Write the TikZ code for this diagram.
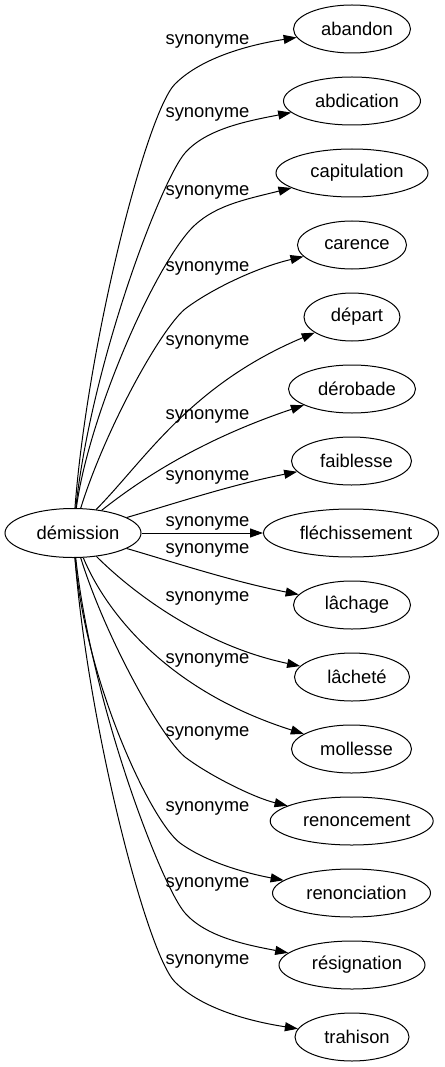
\documentclass[tikz,border=0pt]{standalone}
\usepackage{fontspec}
\setmainfont{Liberation Sans}
\usetikzlibrary{shapes.geometric,arrows.meta}
\newcommand\nodetxt[1]{\makebox[0pt]{\hspace{10pt}#1}}
\begin{document}
\begin{tikzpicture}[x=1pt,y=-1pt,
  term/.style={draw, ellipse, line width=1pt, inner sep=0pt, minimum height=48pt,
    font=\fontsize{18.4}{22}\selectfont},
  lbl/.style={inner sep=0pt, font=\fontsize{18.4}{22}\selectfont},
  syn/.style={line width=1pt, -{Triangle[length=13pt,width=9pt]}}]
\useasboundingbox (0,0) rectangle (444,1067);

% source
\node[term, minimum width=136pt, minimum height=49pt] (dem) at (73,533) {\nodetxt{démission}};

% targets
\node[term, minimum width=117pt] (t1)  at (352,29)    {\nodetxt{abandon}};
\node[term, minimum width=137pt] (t2)  at (352,101)   {\nodetxt{abdication}};
\node[term, minimum width=152pt] (t3)  at (352,173)   {\nodetxt{capitulation}};
\node[term, minimum width=109pt] (t4)  at (352,245)   {\nodetxt{carence}};
\node[term, minimum width=96pt]  (t5)  at (352,317)   {\nodetxt{départ}};
\node[term, minimum width=127pt] (t6)  at (352,389)   {\nodetxt{dérobade}};
\node[term, minimum width=120pt] (t7)  at (351.5,461) {\nodetxt{faiblesse}};
\node[term, minimum width=175pt] (t8)  at (351,533)   {\nodetxt{fléchissement}};
\node[term, minimum width=117pt] (t9)  at (352,605)   {\nodetxt{lâchage}};
\node[term, minimum width=115pt] (t10) at (352,677)   {\nodetxt{lâcheté}};
\node[term, minimum width=120pt] (t11) at (351.5,749) {\nodetxt{mollesse}};
\node[term, minimum width=163pt] (t12) at (351.7,821) {\nodetxt{renoncement}};
\node[term, minimum width=158pt] (t13) at (351.5,893) {\nodetxt{renonciation}};
\node[term, minimum width=146pt] (t14) at (352,965)   {\nodetxt{résignation}};
\node[term, minimum width=114pt] (t15) at (352,1037)  {\nodetxt{trahison}};

% edge labels
\node[lbl] (l1)  at (207.5,41)    {synonyme};
\node[lbl] (l2)  at (207.5,114.5) {synonyme};
\node[lbl] (l3)  at (207.5,192)   {synonyme};
\node[lbl] (l4)  at (207.5,268)   {synonyme};
\node[lbl] (l5)  at (207.5,342)   {synonyme};
\node[lbl] (l6)  at (207.5,416)   {synonyme};
\node[lbl] (l7)  at (207.5,477)   {synonyme};
\node[lbl] (l8)  at (207.5,523)   {synonyme};
\node[lbl] (l9)  at (207.5,550)   {synonyme};
\node[lbl] (l10) at (207.5,598.5) {synonyme};
\node[lbl] (l11) at (207.5,660)   {synonyme};
\node[lbl] (l12) at (207.5,733.5) {synonyme};
\node[lbl] (l13) at (207.5,808)   {synonyme};
\node[lbl] (l14) at (207.5,884)   {synonyme};
\node[lbl] (l15) at (207.5,961)   {synonyme};

% connectors (upper)
\draw[syn] (dem) .. controls (88,340) and (147,112) .. (175,84)
                 .. controls (203,56) and (254,44) .. (t1);
\draw[syn] (dem) .. controls (92,360) and (162,179) .. (185,153)
                 .. controls (206,129) and (247,121) .. (t2);
\draw[syn] (dem) .. controls (88,420) and (150,275) .. (190,230)
                 .. controls (212,206) and (243,200) .. (t3);
\draw[syn] (dem) .. controls (105,430) and (160,330) .. (185,309)
                 .. controls (210,290) and (255,268) .. (t4);
\draw[syn] (dem) .. controls (145,460) and (190,385) .. (t5);
\draw[syn] (dem) .. controls (140,480) and (200,440) .. (t6);
\draw[syn] (dem) .. controls (170,505) and (230,485) .. (t7);
\draw[syn] (dem) -- (t8);
% connectors (lower)
\draw[syn] (dem) .. controls (170,561) and (230,581) .. (t9);
\draw[syn] (dem) .. controls (130,590) and (200,645) .. (t10);
\draw[syn] (dem) .. controls (105,610) and (165,690) .. (t11);
\draw[syn] (dem) .. controls (105,636) and (160,736) .. (185,757)
                 .. controls (210,776) and (255,798) .. (t12);
\draw[syn] (dem) .. controls (85,680) and (150,820) .. (180,843)
                 .. controls (206,862) and (245,873) .. (t13);
\draw[syn] (dem) .. controls (92,706) and (162,887) .. (185,913)
                 .. controls (206,937) and (247,945) .. (t14);
\draw[syn] (dem) .. controls (88,726) and (147,954) .. (175,982)
                 .. controls (203,1010) and (254,1022) .. (t15);
\end{tikzpicture}
\end{document}
